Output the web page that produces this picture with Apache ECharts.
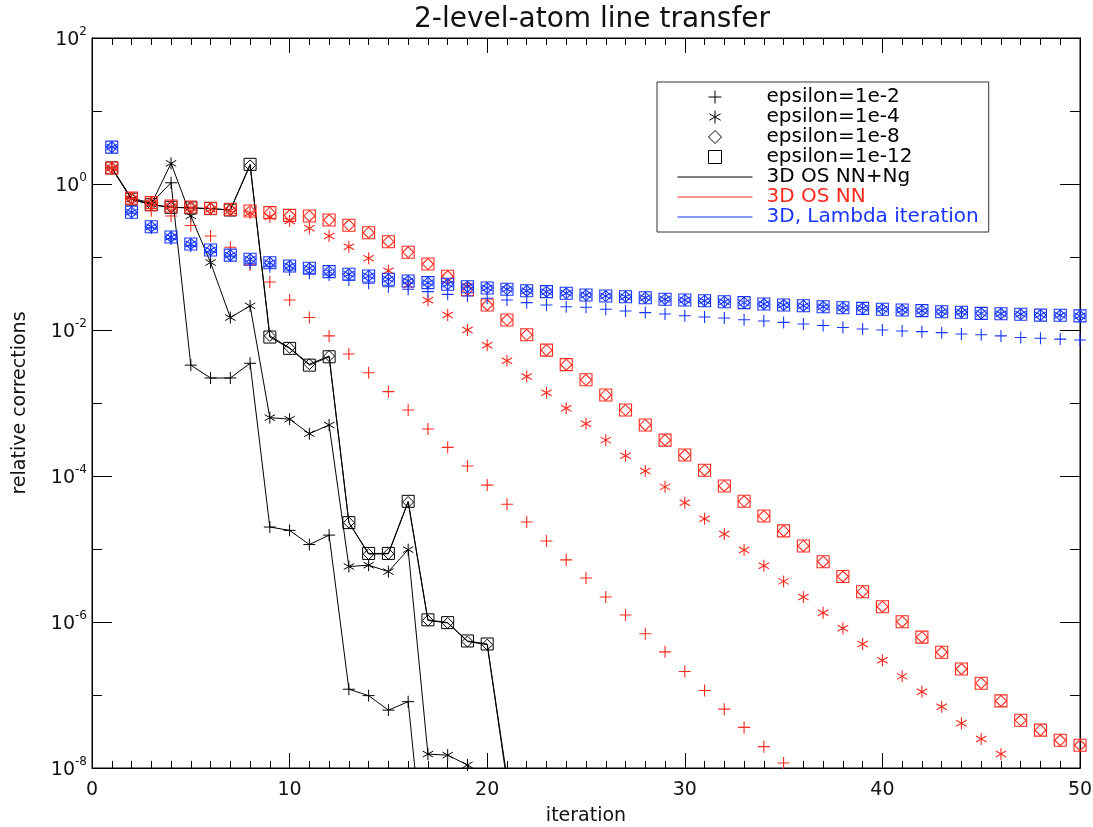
<!DOCTYPE html>
<html>
<head>
<meta charset="UTF-8">
<title>2-level-atom line transfer</title>
<script src="https://cdn.jsdelivr.net/npm/echarts@6/dist/echarts.min.js"></script>
<style>
  body { margin: 0; background: #fff; }
  #main { width: 1093px; height: 827px; }
</style>
</head>
<body>
<div id="main"></div>
<script type="text/javascript">
// iteration number (x)
var iteration = [1,2,3,4,5,6,7,8,9,10,11,12,13,14,15,16,17,18,19,20,21,22,23,24,25,
                 26,27,28,29,30,31,32,33,34,35,36,37,38,39,40,41,42,43,44,45,46,47,48,49,50];

// 3D OS NN+Ng (black, lines + symbols)
var ngEps2  = [1.66,0.64,0.55,1.04,3.3e-3,2.2e-3,2.2e-3,3.5e-3,2.0e-5,1.8e-5,1.15e-5,1.55e-5,1.2e-7,9.8e-8,6.2e-8,8.1e-8,1.7e-10];
var ngEps4  = [1.66,0.62,0.53,1.92,0.365,0.084,0.0148,0.0214,6.3e-4,6.0e-4,3.8e-4,5.0e-4,5.75e-6,6.0e-6,4.9e-6,9.8e-6,1.55e-8,1.5e-8,1.1e-8,4e-9];
var ngEps8  = [1.66,0.62,0.52,0.48,0.47,0.46,0.44,1.80,8.3e-3,5.7e-3,3.4e-3,4.4e-3,2.3e-5,8.5e-6,8.6e-6,4.4e-5,1.05e-6,9.7e-7,5.4e-7,4.9e-7,6.5e-9];
var ngEps12 = [1.66,0.62,0.52,0.48,0.47,0.46,0.44,1.86,8.0e-3,5.6e-3,3.3e-3,4.3e-3,2.3e-5,8.7e-6,8.7e-6,4.5e-5,1.07e-6,9.8e-7,5.5e-7,5.0e-7,7.4e-9];

// 3D OS NN (red, symbols only)
var nnEps2  = [1.66,0.63,0.43,0.365,0.27,0.194,0.136,0.078,0.0455,0.0258,0.0148,8.3e-3,4.7e-3,2.6e-3,1.43e-3,8.0e-4,4.4e-4,2.47e-4,
               1.37e-4,7.5e-5,4.1e-5,2.34e-5,1.29e-5,7.1e-6,4.0e-6,2.2e-6,1.25e-6,6.9e-7,3.9e-7,2.1e-7,1.15e-7,6.4e-8,3.6e-8,1.96e-8,1.17e-8];
var nnEps4  = [1.66,0.63,0.55,0.49,0.47,0.45,0.43,0.40,0.356,0.311,0.247,0.194,0.138,0.096,0.065,0.0413,0.0255,0.016,0.010,6.2e-3,
               3.8e-3,2.3e-3,1.38e-3,8.5e-4,5.2e-4,3.1e-4,1.9e-4,1.17e-4,7.1e-5,4.3e-5,2.6e-5,1.6e-5,9.7e-6,5.9e-6,3.6e-6,2.2e-6,
               1.34e-6,8.2e-7,5.0e-7,3.0e-7,1.8e-7,1.11e-7,6.9e-8,4.1e-8,2.5e-8,1.56e-8];
var nnEps8  = [1.66,0.64,0.555,0.50,0.485,0.465,0.45,0.427,0.405,0.372,0.365,0.321,0.272,0.215,0.162,0.116,0.080,0.0545,0.0356,0.022,
               0.0137,8.6e-3,5.3e-3,3.35e-3,2.08e-3,1.29e-3,8.0e-4,5.0e-4,3.1e-4,1.94e-4,1.2e-4,7.3e-5,4.5e-5,2.83e-5,1.77e-5,1.1e-5,
               6.7e-6,4.2e-6,2.6e-6,1.62e-6,1.01e-6,6.2e-7,3.85e-7,2.27e-7,1.45e-7,8.3e-8,4.5e-8,3.3e-8,2.4e-8,2.05e-8];
var nnEps12 = [1.66,0.64,0.555,0.50,0.485,0.465,0.45,0.427,0.405,0.372,0.365,0.321,0.272,0.215,0.162,0.116,0.080,0.0545,0.0356,0.022,
               0.0137,8.6e-3,5.3e-3,3.35e-3,2.08e-3,1.29e-3,8.0e-4,5.0e-4,3.1e-4,1.94e-4,1.2e-4,7.3e-5,4.5e-5,2.83e-5,1.77e-5,1.1e-5,
               6.7e-6,4.2e-6,2.6e-6,1.62e-6,1.01e-6,6.2e-7,3.85e-7,2.27e-7,1.45e-7,8.3e-8,4.5e-8,3.3e-8,2.4e-8,2.05e-8];

// 3D, Lambda iteration (blue, symbols only)
var liEps2  = [3.2,0.40,0.25,0.177,0.142,0.117,0.103,0.082,0.0736,0.0664,0.0598,0.0566,0.0484,0.0437,0.0392,0.0361,0.0335,0.0308,
               0.0292,0.0272,0.0258,0.0237,0.022,0.0208,0.0205,0.0192,0.0182,0.0173,0.0166,0.0157,0.0151,0.0146,0.0138,0.0133,
               0.0127,0.0121,0.0115,0.0108,0.0103,0.0100,9.7e-3,9.5e-3,9.2e-3,8.8e-3,8.6e-3,8.3e-3,7.9e-3,7.7e-3,7.5e-3,7.3e-3];
var liEps4  = [3.2,0.41,0.26,0.188,0.151,0.125,0.106,0.093,0.0836,0.0753,0.070,0.063,0.058,0.055,0.0495,0.0469,0.0445,0.0423,
               0.0392,0.0376,0.0361,0.0345,0.0335,0.0318,0.0301,0.0292,0.0286,0.0277,0.0264,0.0258,0.0252,0.0244,0.0237,0.0227,
               0.022,0.0215,0.0208,0.0202,0.0198,0.0192,0.0188,0.0184,0.0178,0.0175,0.0169,0.0167,0.0164,0.016,0.0159,0.0156];
var liEps8  = liEps4;
var liEps12 = liEps4;

// log axis ticks
var yMajor = [1e-8, 1e-6, 1e-4, 1e-2, 1, 100];
var yMinor = [1e-7, 1e-5, 1e-3, 1e-1, 10];
var yExp   = ['-8', '-6', '-4', '-2', '0', '2'];

var BLACK = '#000000', RED = '#ff2a1e', BLUE = '#1636ff';
var FONT = 'DejaVu Sans';

var PLUS   = 'path://M0,5L10,5M5,0L5,10';
var STAR   = 'path://M5,0L5,10M0.67,2.5L9.33,7.5M0.67,7.5L9.33,2.5';
var DIAM   = 'path://M5,0L10,5L5,10L0,5Z';
var SQUARE = 'path://M0,0L10,0L10,10L0,10Z';

var names = ['epsilon=1e-2', 'epsilon=1e-4', 'epsilon=1e-8', 'epsilon=1e-12'];
var syms  = [PLUS, STAR, DIAM, SQUARE];
var sizes = [12, 12, 11, 12];

function pts(vals) {
    return vals.map(function (v, i) { return [iteration[i], v]; });
}

var series = [];
[ngEps2, ngEps4, ngEps8, ngEps12].forEach(function (d, k) {
    series.push({
        name: names[k], type: 'line', data: pts(d), z: 2,
        symbol: syms[k], symbolSize: sizes[k], symbolKeepAspect: true, showAllSymbol: true,
        lineStyle: { color: BLACK, width: 1 },
        itemStyle: { color: 'rgba(0,0,0,0)', borderColor: BLACK, borderWidth: 1 },
        emphasis: { disabled: true }
    });
});
[[nnEps2, nnEps4, nnEps8, nnEps12, RED, 3], [liEps2, liEps4, liEps8, liEps12, BLUE, 4]].forEach(function (grp) {
    for (var k = 0; k < 4; k++) {
        series.push({
            name: names[k], type: 'scatter', data: pts(grp[k]), z: grp[5],
            symbol: syms[k], symbolSize: sizes[k], symbolKeepAspect: true,
            itemStyle: { color: 'rgba(0,0,0,0)', borderColor: grp[4], borderWidth: 1.1, opacity: 1 },
            emphasis: { disabled: true }
        });
    }
});
// legend-only entries for the methods
[['3D OS NN+Ng', BLACK], ['3D OS NN', RED], ['3D, Lambda iteration', BLUE]].forEach(function (m) {
    series.push({ name: m[0], type: 'line', data: [], symbol: 'none',
                  lineStyle: { color: m[1], width: 1 },
                  itemStyle: { color: 'rgba(0,0,0,0)', borderWidth: 0 } });
});

var legendData = names.map(function (n, k) {
    return { name: n, icon: syms[k],
             itemStyle: { color: 'rgba(0,0,0,0)', borderColor: BLACK, borderWidth: 1 } };
}).concat([
    { name: '3D OS NN+Ng', textStyle: { color: BLACK } },
    { name: '3D OS NN', textStyle: { color: RED } },
    { name: '3D, Lambda iteration', textStyle: { color: BLUE } }
]);

function xAx(pos, showLabel) {
    return {
        type: 'value', position: pos, min: 0, max: 50, interval: 10,
        axisLine: { show: true, onZero: false, lineStyle: { color: BLACK, width: 1 } },
        axisTick: { inside: true, length: 15, lineStyle: { color: BLACK } },
        minorTick: { show: true, splitNumber: 10, length: 7, lineStyle: { color: BLACK } },
        splitLine: { show: false },
        axisLabel: { show: showLabel, fontFamily: FONT, fontSize: 19, color: '#111', margin: 13 },
        name: showLabel ? 'iteration' : '', nameLocation: 'middle', nameGap: 39,
        nameTextStyle: { fontFamily: FONT, fontSize: 19, color: '#111' }
    };
}
function yAx(pos, ticks, len, showLabel) {
    return {
        type: 'log', logBase: 10, position: pos, min: 1e-8, max: 100,
        axisLine: { show: true, onZero: false, lineStyle: { color: BLACK, width: 1 } },
        axisTick: { inside: true, length: len, customValues: ticks, lineStyle: { color: BLACK } },
        splitLine: { show: false },
        axisLabel: {
            show: showLabel, customValues: yMajor, margin: 5,
            formatter: function (v) {
                var i = yMajor.indexOf(v);
                return '{b|10}{s|' + (i >= 0 ? yExp[i] : '') + '}';
            },
            rich: {
                b: { fontFamily: FONT, fontSize: 19, color: '#111', lineHeight: 24, verticalAlign: 'bottom' },
                s: { fontFamily: FONT, fontSize: 12, color: '#111', lineHeight: 24, verticalAlign: 'top' }
            }
        },
        name: showLabel ? 'relative corrections' : '', nameLocation: 'middle', nameGap: 62,
        nameTextStyle: { fontFamily: FONT, fontSize: 19, color: '#111' }
    };
}

var chart = echarts.init(document.getElementById('main'));
chart.setOption({
    animation: false,
    backgroundColor: '#fff',
    title: {
        text: '2-level-atom line transfer', left: 587, top: 1, textAlign: 'center',
        textStyle: { fontFamily: FONT, fontSize: 28, fontWeight: 'normal', color: '#111' }
    },
    grid: { left: 92, right: 13, top: 38, bottom: 59, show: true, borderColor: BLACK, borderWidth: 1,
            backgroundColor: 'rgba(0,0,0,0)', outerBoundsMode: 'none' },
    legend: {
        orient: 'vertical', left: 657, top: 82, z: 10,
        padding: [5, 10, 5, 20], itemWidth: 75, itemHeight: 13, itemGap: 0,
        backgroundColor: '#fff', borderColor: '#333', borderWidth: 1,
        selectedMode: false,
        lineStyle: { width: 1 },
        textStyle: { fontFamily: FONT, fontSize: 20, color: BLACK, padding: [0, 0, 0, 9] },
        data: legendData
    },
    xAxis: [xAx('bottom', true), xAx('top', false)],
    yAxis: [yAx('left', yMajor, 20, true), yAx('left', yMinor, 10, false),
            yAx('right', yMajor, 20, false), yAx('right', yMinor, 10, false)],
    series: series
});
</script>
</body>
</html>
